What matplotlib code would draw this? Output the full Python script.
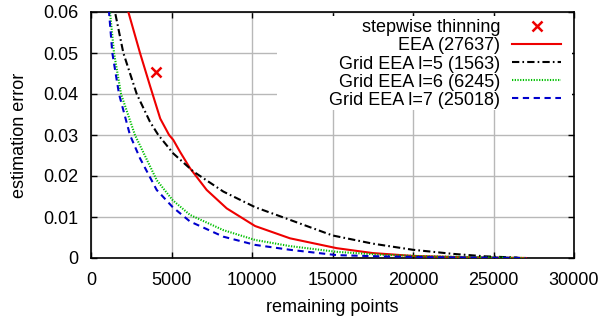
import matplotlib
matplotlib.use('Agg')
import matplotlib.pyplot as plt
from matplotlib.patches import Rectangle

# datos
eea_x = [2000, 2320, 3045, 3665, 4300, 4850, 5110, 5530, 6150, 7185, 8430, 10190, 12360, 15260, 17500, 20000, 23000, 27000]
eea_y = [0.067, 0.060, 0.050, 0.042, 0.0340, 0.0300, 0.0288, 0.0259, 0.0219, 0.0166, 0.0121, 0.0078, 0.0048, 0.0024, 0.0012, 0.0005, 0.0002, 0.0]

grid5_x = [1300, 1490, 2010, 2840, 3665, 4180, 5110, 6355, 8220, 10190, 12360, 15000, 17500, 20000, 22500, 24500, 26500]
grid5_y = [0.067, 0.060, 0.050, 0.040, 0.0332, 0.030, 0.0255, 0.0211, 0.0162, 0.0124, 0.0093, 0.0055, 0.0035, 0.0020, 0.0010, 0.0004, 0.0001]

grid6_x = [1000, 1180, 1430, 1865, 2730, 4080, 5075, 6150, 8220, 10190, 12360, 15260, 18000, 21000, 24000, 27000]
grid6_y = [0.067, 0.060, 0.050, 0.040, 0.030, 0.019, 0.0141, 0.0105, 0.0068, 0.0044, 0.0029, 0.0015, 0.0008, 0.0004, 0.0002, 0.0]

grid7_x = [950, 1120, 1325, 1740, 2420, 3045, 4080, 5075, 6150, 8220, 10190, 12360, 15260, 18000, 21000, 24000, 27000]
grid7_y = [0.067, 0.060, 0.050, 0.040, 0.030, 0.0243, 0.0166, 0.0124, 0.0089, 0.0052, 0.0032, 0.0020, 0.0007, 0.0004, 0.0002, 0.0001, 0.0]

thin_x = [4040]
thin_y = [0.0454]

labels = ['stepwise thinning', 'EEA (27637)', 'Grid EEA l=5 (1563)',
          'Grid EEA l=6 (6245)', 'Grid EEA l=7 (25018)']

plt.rcParams['font.family'] = ['Liberation Sans', 'DejaVu Sans']
plt.rcParams['font.size'] = 13

fig = plt.figure(figsize=(6.13, 3.2), dpi=100)
ax = fig.add_axes([91/613, 62/320, 483/613, 246/320])

ax.plot(thin_x, thin_y, linestyle='none', marker='x', color='#ee0000',
        markersize=7.5, markeredgewidth=1.8, label=labels[0], zorder=3)
ax.plot(eea_x, eea_y, color='#ee0000', lw=1.5, label=labels[1], zorder=3)
ax.plot(grid5_x, grid5_y, color='black', lw=1.5, dashes=(3.5, 1.5, 0.8, 1.5), label=labels[2], zorder=3)
ax.plot(grid6_x, grid6_y, color='#00c000', lw=1.5, dashes=(0.6, 0.7), label=labels[3], zorder=3)
ax.plot(grid7_x, grid7_y, color='#0000cc', lw=1.5, dashes=(3.0, 2.2), label=labels[4], zorder=3)

ax.set_xlim(0, 30000)
ax.set_ylim(0, 0.06)
ax.set_xticks(range(0, 30001, 5000))
ax.set_yticks([0, 0.01, 0.02, 0.03, 0.04, 0.05, 0.06])
ax.set_yticklabels(['0', '0.01', '0.02', '0.03', '0.04', '0.05', '0.06'])
ax.grid(True, color='#b8b8b8', lw=1.0)
ax.set_axisbelow(True)
ax.tick_params(direction='in', top=True, right=True, length=4, width=1)
ax.tick_params(axis='x', pad=10)
ax.tick_params(axis='y', pad=9)
for s in ax.spines.values():
    s.set_linewidth(1.2)

ax.set_xlabel('remaining points', labelpad=7)
ax.set_ylabel('estimation error', labelpad=11)

# caja blanca de la leyenda (tapa la rejilla)
ax.add_patch(Rectangle((0.385, 0.60), 0.61, 0.385, transform=ax.transAxes,
                       facecolor='white', edgecolor='none', zorder=1))

ax.legend(loc='upper right', bbox_to_anchor=(0.973, 0.97), frameon=False,
          markerfirst=False, handlelength=2.7, handletextpad=0.65,
          labelspacing=0.06, borderpad=0, borderaxespad=0, fontsize=13)

plt.savefig('out.png', dpi=100)
